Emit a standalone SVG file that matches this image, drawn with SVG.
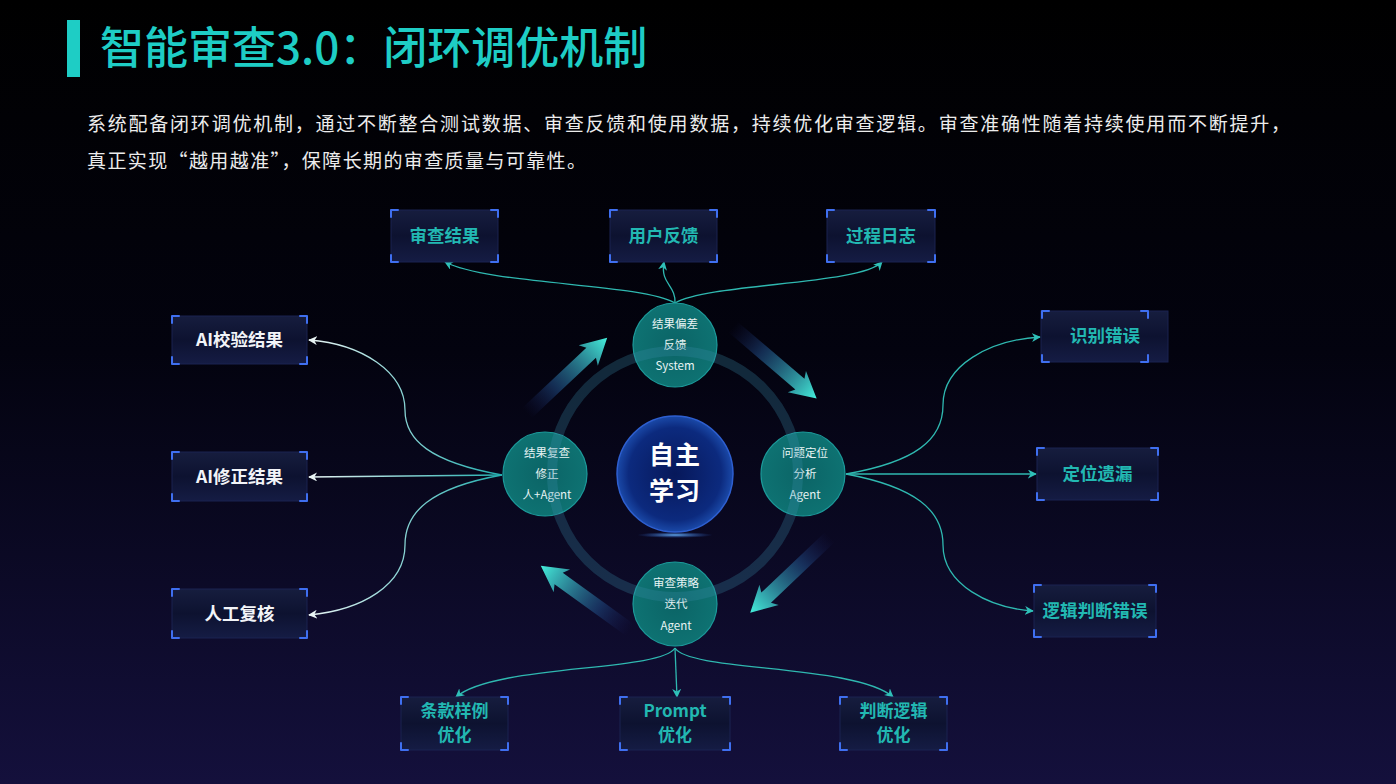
<svg xmlns="http://www.w3.org/2000/svg" width="1396" height="784" viewBox="0 0 1396 784">
<defs>
<linearGradient id="bg" x1="0" y1="0" x2="0" y2="1">
<stop offset="0" stop-color="#000000"/>
<stop offset="0.45" stop-color="#03030f"/>
<stop offset="1" stop-color="#14103c"/>
</linearGradient>
<linearGradient id="boxfill" x1="0" y1="0" x2="0" y2="1">
<stop offset="0" stop-color="#161d3e"/>
<stop offset="0.5" stop-color="#0d1230"/>
<stop offset="1" stop-color="#151c44"/>
</linearGradient>
<radialGradient id="center" cx="0.5" cy="0.5" r="0.5">
<stop offset="0" stop-color="#07185a"/>
<stop offset="0.8" stop-color="#0c2a7e"/>
<stop offset="1" stop-color="#1a49a8"/>
</radialGradient>
<radialGradient id="node" cx="0.5" cy="0.5" r="0.5">
<stop offset="0" stop-color="#0b6466"/>
<stop offset="1" stop-color="#0e7272"/>
</radialGradient>
<radialGradient id="glow" cx="0.5" cy="0.5" r="0.5">
<stop offset="0" stop-color="#6ab8ff" stop-opacity="0.9"/>
<stop offset="1" stop-color="#2a60d0" stop-opacity="0"/>
</radialGradient>
<linearGradient id="arrowGrad" x1="0" y1="0" x2="1" y2="0">
<stop offset="0" stop-color="#1a1f60" stop-opacity="0"/>
<stop offset="0.35" stop-color="#1f4a80" stop-opacity="0.6"/>
<stop offset="1" stop-color="#45f0dc"/>
</linearGradient>
<linearGradient id="leftLine" gradientUnits="userSpaceOnUse" x1="500" y1="0" x2="310" y2="0">
<stop offset="0" stop-color="#25b0b0"/>
<stop offset="1" stop-color="#e8f4f4"/>
</linearGradient>
<marker id="ah" viewBox="0 0 10 10" refX="9" refY="5" markerWidth="9" markerHeight="9" markerUnits="userSpaceOnUse" orient="auto">
<path d="M0,0 L10,5 L0,10 L3,5 z" fill="#2fc0b8"/>
</marker>
<marker id="ahw" viewBox="0 0 10 10" refX="9" refY="5" markerWidth="9" markerHeight="9" markerUnits="userSpaceOnUse" orient="auto">
<path d="M0,0 L10,5 L0,10 L3,5 z" fill="#e8f4f4"/>
</marker>
<polygon id="bigArrow" points="0,-7 88,-7 84,-14 110,0 84,14 88,7 0,7" fill="url(#arrowGrad)"/>
</defs>
<style>
.box{fill:url(#boxfill);stroke:#1a2350;stroke-width:1}
.corner{fill:none;stroke:#3f6ff0;stroke-width:2;stroke-linecap:round;stroke-linejoin:round}
.lbl{font-family:"Noto Sans CJK SC","Noto Sans",sans-serif;font-size:17.5px;font-weight:700;text-anchor:middle;fill:#22b8b2}
.lbl2{font-family:"Noto Sans CJK SC","Noto Sans",sans-serif;font-size:17px;font-weight:700;text-anchor:middle;fill:#22b8b2}
.lblw{font-family:"Noto Sans CJK SC","Noto Sans",sans-serif;font-size:17.5px;font-weight:700;text-anchor:middle;fill:#f2f4f8}
.ntxt{font-family:"Noto Sans CJK SC","Noto Sans",sans-serif;font-size:11.5px;text-anchor:middle;fill:#e8f4f4}
.con{fill:none;stroke:#2fb8b0;stroke-width:1.3}
.conw{fill:none;stroke:url(#leftLine);stroke-width:1.3}
.nodec{fill:url(#node);stroke:#1c9a9a;stroke-width:1.2}
</style>
<rect x="0" y="0" width="1396" height="784" fill="url(#bg)"/>

<g id="title">
<rect x="67" y="20" width="13" height="57" fill="#1ecdc5"/>
<text x="100" y="64" font-family="Noto Sans CJK SC, Noto Sans, sans-serif" font-size="44" font-weight="500" fill="#1ecdc5">智能审查3.0：闭环调优机制</text>
</g>
<g id="intro" font-family="Noto Sans CJK SC, Noto Sans, sans-serif" font-size="19" fill="#ececec">
<text x="87" y="131" textLength="1203" lengthAdjust="spacing">系统配备闭环调优机制，通过不断整合测试数据、审查反馈和使用数据，持续优化审查逻辑。审查准确性随着持续使用而不断提升，</text>
<text x="87" y="168" textLength="499" lengthAdjust="spacing">真正实现“越用越准”，保障长期的审查质量与可靠性。</text>
</g>

<g id="connectors">
<path class="con" d="M675,303 C640,283 490,285 445,262" marker-end="url(#ah)"/>
<path class="con" d="M675,303 C676,285 660,284 664,262" marker-end="url(#ah)"/>
<path class="con" d="M675,303 C710,283 860,285 882,262" marker-end="url(#ah)"/>
<path class="conw" d="M502,475 C430,462 405,440 405,410 C405,372 362,344 309,340" marker-end="url(#ahw)"/>
<path class="conw" d="M502,475 L309,477" marker-end="url(#ahw)"/>
<path class="conw" d="M502,475 C430,488 405,512 405,545 C405,585 362,610 309,615" marker-end="url(#ahw)"/>
<path class="con" d="M846,474 C915,462 943,440 943,405 C943,365 990,340 1040,337" marker-end="url(#ah)"/>
<path class="con" d="M846,474 L1036,474" marker-end="url(#ah)"/>
<path class="con" d="M846,474 C915,487 943,510 943,545 C943,585 990,608 1033,611" marker-end="url(#ah)"/>
<path class="con" d="M675,648 C660,672 495,664 456,697" marker-end="url(#ah)"/>
<path class="con" d="M675,648 L677,697" marker-end="url(#ah)"/>
<path class="con" d="M675,648 C690,672 855,664 893,697" marker-end="url(#ah)"/>
</g>

<g id="flow-arrows">
<use href="#bigArrow" transform="translate(527,413) rotate(-43.2)"/>
<use href="#bigArrow" transform="translate(733,327) rotate(40.5)"/>
<use href="#bigArrow" transform="translate(830,537) rotate(136.5)"/>
<use href="#bigArrow" transform="translate(630,630) rotate(215.8)"/>
</g>

<g id="center-node">
<ellipse cx="675" cy="535" rx="38" ry="3" fill="url(#glow)"/>
<circle cx="675" cy="474" r="58" fill="url(#center)" stroke="#2e5fd0" stroke-width="1.5"/>
<text font-family="Noto Sans CJK SC, sans-serif" font-size="25" font-weight="700" fill="#ffffff" text-anchor="middle" letter-spacing="1"><tspan x="675" y="464">自主</tspan><tspan x="675" y="500">学习</tspan></text>
</g>

<g id="node-top">
<circle class="nodec" cx="675" cy="345" r="42"/>
<text class="ntxt" x="675" y="328">结果偏差</text>
<text class="ntxt" x="675" y="349">反馈</text>
<text class="ntxt" x="675" y="370">System</text>
</g>
<g id="node-right">
<circle class="nodec" cx="803" cy="474" r="42"/>
<text class="ntxt" x="805" y="457">问题定位</text>
<text class="ntxt" x="805" y="478">分析</text>
<text class="ntxt" x="805" y="499">Agent</text>
</g>
<g id="node-bottom">
<circle class="nodec" cx="675" cy="604" r="42"/>
<text class="ntxt" x="676" y="587">审查策略</text>
<text class="ntxt" x="676" y="608">迭代</text>
<text class="ntxt" x="676" y="630">Agent</text>
</g>
<g id="node-left">
<circle class="nodec" cx="545" cy="474" r="42"/>
<text class="ntxt" x="547" y="457">结果复查</text>
<text class="ntxt" x="547" y="478">修正</text>
<text class="ntxt" x="547" y="499">人+Agent</text>
</g>
<g id="ring">
<circle cx="675" cy="474" r="123" fill="none" stroke="#3a8ca8" stroke-opacity="0.28" stroke-width="10"/>
</g>

<g id="box-shenchajieguo">
<rect class="box" x="391" y="210" width="107" height="52"/>
<path class="corner" d="M391,217 V210 H398 M491,210 H498 V217 M498,255 V262 H491 M398,262 H391 V255"/>
<text class="lbl" x="444.5" y="242">审查结果</text>
</g>
<g id="box-yonghufankui">
<rect class="box" x="610" y="210" width="107" height="52"/>
<path class="corner" d="M610,217 V210 H617 M710,210 H717 V217 M717,255 V262 H710 M617,262 H610 V255"/>
<text class="lbl" x="663.5" y="242">用户反馈</text>
</g>
<g id="box-guochengrizhi">
<rect class="box" x="827" y="210" width="108" height="52"/>
<path class="corner" d="M827,217 V210 H834 M928,210 H935 V217 M935,255 V262 H928 M834,262 H827 V255"/>
<text class="lbl" x="881" y="242">过程日志</text>
</g>

<g id="box-aijiaoyan">
<rect class="box" x="172" y="316" width="135" height="48"/>
<path class="corner" d="M172,323 V316 H179 M300,316 H307 V323 M307,357 V364 H300 M179,364 H172 V357"/>
<text class="lblw" x="239.5" y="346">AI校验结果</text>
</g>
<g id="box-aixiuzheng">
<rect class="box" x="172" y="452" width="135" height="49"/>
<path class="corner" d="M172,459 V452 H179 M300,452 H307 V459 M307,494 V501 H300 M179,501 H172 V494"/>
<text class="lblw" x="239.5" y="482.5">AI修正结果</text>
</g>
<g id="box-rengongfuhe">
<rect class="box" x="172" y="589" width="135" height="49"/>
<path class="corner" d="M172,596 V589 H179 M300,589 H307 V596 M307,631 V638 H300 M179,638 H172 V631"/>
<text class="lblw" x="239.5" y="619.5">人工复核</text>
</g>

<g id="box-shibiecuowu">
<rect class="box" x="1041" y="311" width="127" height="51"/>
<path class="corner" d="M1042,318 V311 H1049 M1141,311 H1148 V318 M1148,355 V362 H1141 M1049,362 H1042 V355"/>
<text class="lbl" x="1105" y="342">识别错误</text>
</g>
<g id="box-dingweiyilou">
<rect class="box" x="1037" y="448" width="121" height="52"/>
<path class="corner" d="M1037,455 V448 H1044 M1151,448 H1158 V455 M1158,493 V500 H1151 M1044,500 H1037 V493"/>
<text class="lbl" x="1097.5" y="480">定位遗漏</text>
</g>
<g id="box-luojipanduan">
<rect class="box" x="1034" y="585" width="122" height="52"/>
<path class="corner" d="M1034,592 V585 H1041 M1149,585 H1156 V592 M1156,630 V637 H1149 M1041,637 H1034 V630"/>
<text class="lbl" x="1095" y="617">逻辑判断错误</text>
</g>

<g id="box-tiaokuan">
<rect class="box" x="401" y="697" width="107" height="53"/>
<path class="corner" d="M401,704 V697 H408 M501,697 H508 V704 M508,743 V750 H501 M408,750 H401 V743"/>
<text class="lbl2" x="454.5" y="717">条款样例</text>
<text class="lbl2" x="454.5" y="741">优化</text>
</g>
<g id="box-prompt">
<rect class="box" x="620" y="697" width="110" height="53"/>
<path class="corner" d="M620,704 V697 H627 M723,697 H730 V704 M730,743 V750 H723 M627,750 H620 V743"/>
<text class="lbl2" x="675" y="717">Prompt</text>
<text class="lbl2" x="675" y="741">优化</text>
</g>
<g id="box-panduanluoji">
<rect class="box" x="840" y="697" width="107" height="53"/>
<path class="corner" d="M840,704 V697 H847 M940,697 H947 V704 M947,743 V750 H940 M847,750 H840 V743"/>
<text class="lbl2" x="893.5" y="717">判断逻辑</text>
<text class="lbl2" x="893.5" y="741">优化</text>
</g>
</svg>
